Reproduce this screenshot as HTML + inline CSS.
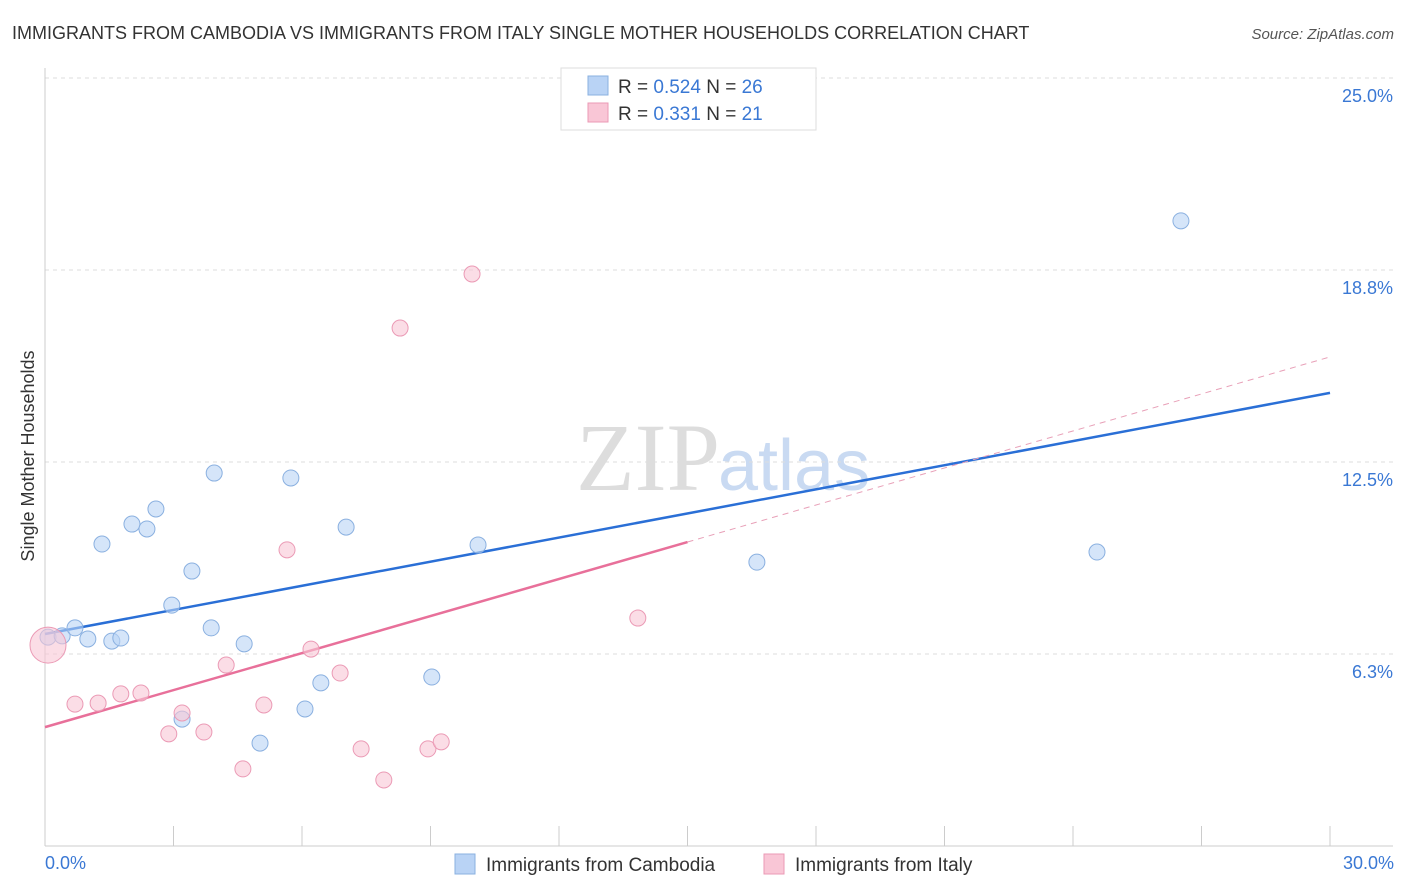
<!DOCTYPE html>
<html><head><meta charset="utf-8"><style>
body{margin:0;background:#fff;font-family:"Liberation Sans",sans-serif;}
#wrap{position:relative;width:1406px;height:892px;overflow:hidden}
</style></head><body><div id="wrap">
<svg id="svg" width="1406" height="892" xmlns="http://www.w3.org/2000/svg">
<text x="12" y="39" font-size="18" fill="#333">IMMIGRANTS FROM CAMBODIA VS IMMIGRANTS FROM ITALY SINGLE MOTHER HOUSEHOLDS CORRELATION CHART</text>
<text x="1394" y="39" font-size="15" fill="#555" font-style="italic" text-anchor="end">Source: ZipAtlas.com</text>
<text x="720" y="490" font-size="96" fill="#ddd" text-anchor="end" font-family="Liberation Serif,serif">ZIP</text>
<text x="718" y="490" font-size="72" fill="#c9daf2">atlas</text>
<g id="grid"></g><g id="lines"></g><g id="pts"></g>
<text transform="translate(34,456) rotate(-90)" font-size="18" fill="#333" text-anchor="middle">Single Mother Households</text>
<text x="45" y="869" font-size="18" fill="#3a78d4">0.0%</text>
<text x="1394" y="869" font-size="18" fill="#3a78d4" text-anchor="end">30.0%</text>
<g>
<rect x="561" y="68" width="255" height="62" fill="#fff" stroke="#ddd"/>
<rect x="588" y="76" width="20" height="19" fill="#b9d3f5" stroke="#8ab0e0"/>
<rect x="588" y="103" width="20" height="19" fill="#f9c6d6" stroke="#eb9ab5"/>
<text x="618" y="93" font-size="19" fill="#333">R = <tspan fill="#3a78d4">0.524</tspan>   N = <tspan fill="#3a78d4">26</tspan></text>
<text x="618" y="120" font-size="19" fill="#333">R =  <tspan fill="#3a78d4">0.331</tspan>   N =  <tspan fill="#3a78d4">21</tspan></text>
</g>
<g>
<rect x="455" y="854" width="20" height="20" fill="#b9d3f5" stroke="#8ab0e0"/>
<text x="486" y="871" font-size="19" fill="#333">Immigrants from Cambodia</text>
<rect x="764" y="854" width="20" height="20" fill="#f9c6d6" stroke="#eb9ab5"/>
<text x="795" y="871" font-size="19" fill="#333">Immigrants from Italy</text>
</g>
</svg></div>
<script>
const yTicks=[6.3,12.5,18.8,25.0];
const cambX=[0.07,0.40,0.70,1.00,1.33,1.56,1.77,2.03,2.38,2.59,2.96,3.20,3.43,3.88,3.95,4.65,5.02,5.74,6.07,6.44,7.03,9.03,10.11,16.62,24.56,26.52];
const cambY=[6.80,6.84,7.10,6.74,9.83,6.67,6.77,10.48,10.32,10.97,7.84,4.13,8.95,7.10,12.14,6.58,3.35,11.98,4.46,5.31,10.38,5.50,9.80,9.24,9.57,20.35];
const italyX=[0.07,0.70,1.24,1.77,2.24,2.89,3.20,3.71,4.23,4.62,5.11,5.65,6.21,6.89,7.38,7.91,8.29,8.94,9.25,9.97,13.84];
const italyY=[6.54,4.62,4.65,4.95,4.98,3.65,4.33,3.71,5.89,2.51,4.59,9.64,6.41,5.63,3.16,2.15,16.86,3.16,3.39,18.62,7.42];
const cambTrend=[6.90,14.75];
const italyTrend=[3.87,15.92];
const NS="http://www.w3.org/2000/svg";
const X=v=>45+v/30*1285, Y=v=>846-v/6.25*192;
function mk(t,a,p){const e=document.createElementNS(NS,t);for(const k in a)e.setAttribute(k,a[k]);document.getElementById(p).appendChild(e);return e;}
yTicks.forEach((t,i)=>{const yy=846-(i+1)*192;
 const l=mk('line',{x1:45,x2:1393,y1:yy,y2:yy,stroke:'#ddd','stroke-dasharray':'4,4'},'grid');
 
 
 const tx=mk('text',{x:1393,y:yy+24,'font-size':18,fill:'#3a78d4','text-anchor':'end'},'grid');tx.textContent=t.toFixed(1)+'%';
 
 });
mk('line',{x1:45,x2:1393,y1:846,y2:846,stroke:'#ccc'},'grid');
mk('line',{x1:45,x2:45,y1:68,y2:846,stroke:'#ccc'},'grid');
for(let i=1;i<=10;i++){const xx=X(i*3);const t=mk('line',{x1:xx,x2:xx,y1:826,y2:846,stroke:'#ccc'},'grid');
 
 }
function pts(xs,ys,fill,stroke,name){xs.forEach((x,i)=>{const c=mk('circle',{cx:X(x),cy:Y(ys[i]),r:(i==0&&name=='italy-point')?18:8,fill:fill,'fill-opacity':0.6,stroke:stroke},'pts');
 
 });}
const bl=mk('line',{x1:X(0),y1:Y(cambTrend[0]),x2:X(30),y2:Y(cambTrend[1]),stroke:'#2a6fd6','stroke-width':2.5},'lines');


const pm=italyTrend[0]+(italyTrend[1]-italyTrend[0])/2;
const pl=mk('line',{x1:X(0),y1:Y(italyTrend[0]),x2:X(15),y2:Y(pm),stroke:'#e8709a','stroke-width':2.5},'lines');


const pd=mk('line',{x1:X(15),y1:Y(pm),x2:X(30),y2:Y(italyTrend[1]),stroke:'#e8a0b8','stroke-width':1,'stroke-dasharray':'6,5'},'lines');


pts(cambX,cambY,'#b9d3f5','#8ab0e0','cambodia-point');
pts(italyX,italyY,'#f9c6d6','#eb9ab5','italy-point');
</script></body></html>
